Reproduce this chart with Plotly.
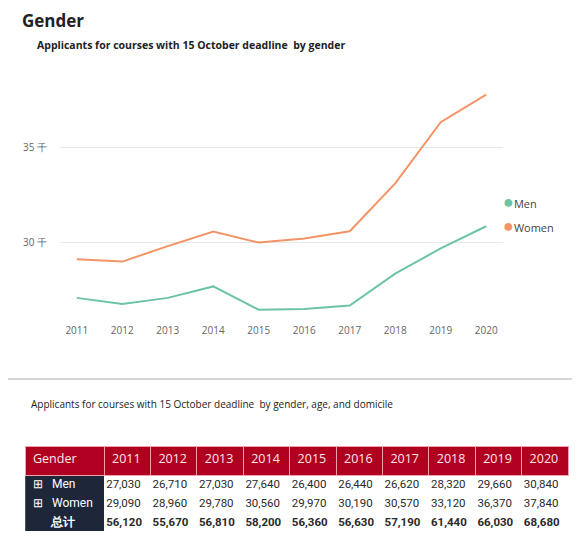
import plotly.graph_objects as go

years = [2011, 2012, 2013, 2014, 2015, 2016, 2017, 2018, 2019, 2020]
men = [27030, 26710, 27030, 27640, 26400, 26440, 26620, 28320, 29660, 30840]
women = [29090, 28960, 29780, 30560, 29970, 30190, 30570, 33120, 36370, 37840]
totals = [56120, 55670, 56810, 58200, 56360, 56630, 57190, 61440, 66030, 68680]
row_labels = ["⊞&nbsp;&nbsp;&nbsp;Men", "⊞&nbsp;&nbsp;&nbsp;Women",
              "&nbsp;&nbsp;&nbsp;&nbsp;&nbsp;&nbsp;<b>总计</b>"]
y_ticks = [30000, 35000]
y_ticktext = ["30 千", "35 千"]

men_color = "#6cc4a4"
women_color = "#f29466"
red = "#b00020"
navy = "#1e2739"

# page has an 8px body margin, so the figure is drawn 8px in from the window edge
W, H, OFF = 572, 540, 8
px = lambda x: (x - OFF) / W
py = lambda y: 1 - (y - OFF) / H

fig = go.Figure()

fig.add_trace(go.Scatter(x=years, y=men, mode="lines", name="Men",
                         line=dict(color=men_color, width=2), showlegend=False))
fig.add_trace(go.Scatter(x=years, y=women, mode="lines", name="Women",
                         line=dict(color=women_color, width=2), showlegend=False))

# table body: the three rows are stacked in one cell per column so that the
# row pitch (set by the base font size) can match the tight 18px rows.
# The body table has an invisible header and starts a little higher, so its
# top padding slides under the real header drawn afterwards.
fmt = lambda v: f"{v:,}"
span = lambda s, size: f"<span style='font-size:{size}px'>{s}</span>"
cols = ["<br>".join(span(s, 12) for s in row_labels)]
for i in range(len(years)):
    vals = [fmt(men[i]), fmt(women[i]), "<b>" + fmt(totals[i]) + "</b>"]
    cols.append("<br>".join(span(s, 11.5) for s in vals))

col_w = [79] + [46.4] * len(years)
tx = [px(25), px(568)]
clear = "rgba(0,0,0,0)"

fig.add_trace(go.Table(
    domain=dict(x=tx, y=[py(531), py(440)]),
    columnwidth=col_w,
    header=dict(values=[""] * (len(years) + 1), height=29,
                fill_color=clear, line=dict(color=clear, width=0)),
    cells=dict(values=[[c] for c in cols],
               fill_color=[navy] + ["white"] * len(years),
               line=dict(color=["#4a5262"] + ["white"] * len(years), width=1),
               font=dict(color=["white"] + ["#2a2a2a"] * len(years), size=14.5,
                         family="Roboto"),
               align=["left"] + ["right"] * len(years), height=20),
))
fig.add_trace(go.Table(
    domain=dict(x=tx, y=[py(476), py(446)]),
    columnwidth=col_w,
    header=dict(values=["Gender"] + [str(y) for y in years],
                fill_color=red, line=dict(color="#f3a0ae", width=1),
                font=dict(color="#ffe8ec", size=12.5, family="Open Sans"),
                align="left", height=29),
    cells=dict(values=[[""]] * (len(years) + 1), height=1,
               fill_color=clear, line=dict(color=clear, width=0)),
))

legend_items = [("Men", men_color, 201), ("Women", women_color, 225)]
annotations = [
    dict(text="<b>Gender</b>", x=px(20), y=py(20), yanchor="middle",
         font=dict(size=17, color="#222222")),
    dict(text="<b>Applicants for courses with 15 October deadline  by gender</b>",
         x=px(35), y=py(45), yanchor="middle", font=dict(size=10.5, color="#222222")),
    dict(text="Applicants for courses with 15 October deadline  by gender, age, and domicile",
         x=px(29), y=py(404), yanchor="middle", font=dict(size=10, color="#222222")),
]
for name, color, ypos in legend_items:
    annotations.append(dict(
        text=f"<span style='color:{color};font-size:18px'>●</span>{name}",
        x=px(501), y=py(ypos), yanchor="middle", font=dict(size=11, color="#444444")))
for a in annotations:
    a.update(xref="paper", yref="paper", xanchor="left", showarrow=False)

fig.update_layout(
    width=W, height=H,
    margin=dict(l=0, r=0, t=0, b=0),
    paper_bgcolor="white", plot_bgcolor="white",
    font=dict(family="Open Sans", color="#333333"),
    showlegend=False,
    xaxis=dict(domain=[px(60), px(503)], range=[2010.63, 2020.37],
               tickvals=years, showgrid=False, zeroline=False, showline=False,
               ticklabelstandoff=5, tickfont=dict(size=10, color="#666666")),
    yaxis=dict(domain=[py(318), py(88)], range=[25960, 38190],
               tickvals=y_ticks, ticktext=y_ticktext, showgrid=True,
               gridcolor="#e8e8e8", zeroline=False, showline=False,
               ticklabelstandoff=12, tickfont=dict(size=10, color="#666666")),
    shapes=[dict(type="line", xref="paper", yref="paper",
                 x0=0, x1=1, y0=py(379), y1=py(379),
                 line=dict(color="#c8c8c8", width=1.5))],
    annotations=annotations,
)

fig.write_html("out.html")
